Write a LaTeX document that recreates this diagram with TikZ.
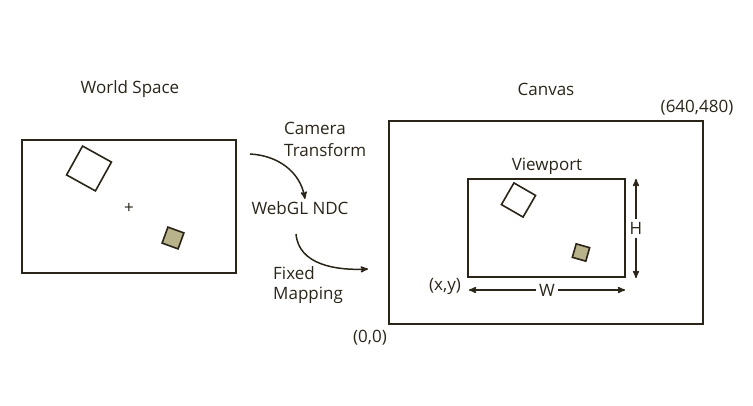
\documentclass[tikz,border=0pt]{standalone}
\usepackage{fontspec}
\setmainfont{Open Sans}
\usetikzlibrary{arrows,shapes}
\definecolor{ink}{HTML}{2B2519}
\definecolor{khaki}{HTML}{B8B38A}
\tikzstyle{frame}=[draw=ink,line width=2pt]
\tikzstyle{label}=[text=ink,inner sep=0pt,font=\fontsize{17}{20}\selectfont]
\tikzstyle{tile}=[draw=ink,line width=1.6pt,inner sep=0pt,fill=white]
\tikzstyle{tilefill}=[tile,fill=khaki]
\tikzstyle{link}=[->,>=stealth',draw=ink,line width=1.5pt]

\begin{document}
\begin{tikzpicture}[x=1pt,y=-1pt]
\useasboundingbox (0,0) rectangle (753,406);
% world space
\node [label] (worldtitle) at (130,89) {World Space};
\draw [frame] (22,140) rectangle (236,273);
\node [tile,minimum size=33pt,rotate=-29] (bigw) at (89,168.5) {};
\node [label] (origin) at (129,208) {+};
\node [tilefill,minimum size=17pt,rotate=-20] (smallw) at (173,238) {};
% the two mappings
\node [label,anchor=west] (camera) at (284,128) {Camera};
\node [label,anchor=west] (transform) at (284,150) {Transform};
\node [label] (ndc) at (300,208) {WebGL NDC};
\node [label,anchor=west] (fixed) at (273,273) {Fixed};
\node [label,anchor=west] (mapping) at (273,295) {Mapping};
\coordinate (camS) at (250,154);
\coordinate (camE) at (305,199);
\coordinate (mapS) at (296,234);
\coordinate (mapE) at (368,269);
\draw [link] (camS) to[out=-3,in=100] (camE);
\draw [link] (mapS) to[out=-85,in=183] (mapE);
% canvas
\node [label] (canvastitle) at (546,89) {Canvas};
\draw [frame] (389,121) rectangle (703,324);
\node [label] (topright) at (697,108) {(640,480)};
\node [label] (botleft) at (370,338) {(0,0)};
\node [label] (vptitle) at (547,166) {Viewport};
\draw [frame] (468,179) rectangle (625,277);
\node [tile,minimum size=25pt,rotate=-30] (bigv) at (518.5,200) {};
\node [tilefill,minimum size=14pt,rotate=-16] (smallv) at (581,252.5) {};
\node [label] (xy) at (445,286) {(x,y)};
\coordinate (wL) at (469,290);
\coordinate (wR) at (625,290);
\coordinate (hT) at (636,179);
\coordinate (hB) at (636,278);
\draw [link,<->] (wL) -- node [label,fill=white,inner sep=3pt] (wlab) {W} (wR);
\draw [link,<->] (hT) -- node [label,fill=white,inner sep=3pt] (hlab) {H} (hB);
\end{tikzpicture}
\end{document}
